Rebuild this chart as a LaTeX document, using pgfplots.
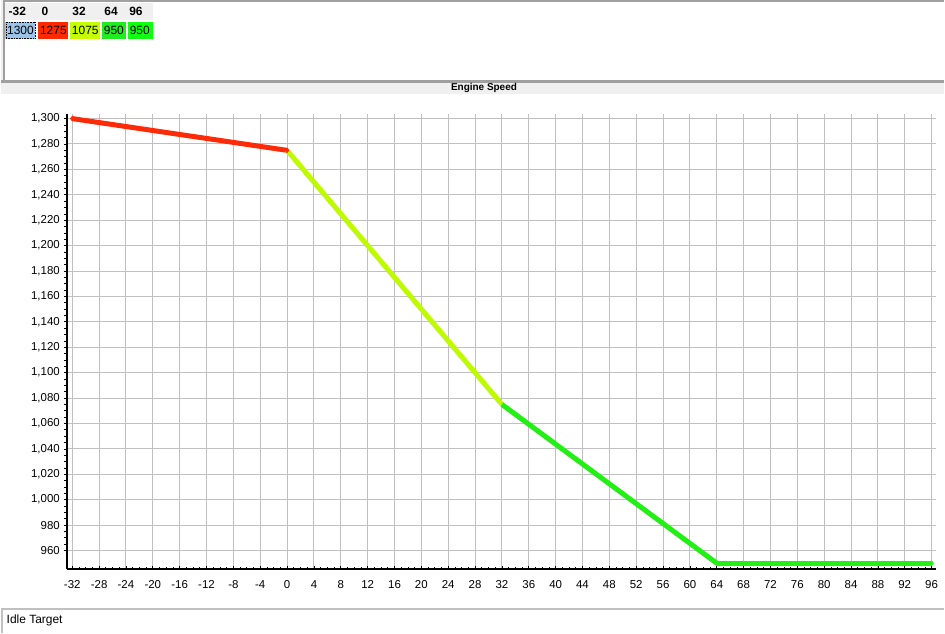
\documentclass[border=0pt]{standalone}
\usepackage{pgfplots}
\pgfplotsset{compat=1.18}
\usepackage{fontspec}
\setmainfont{Liberation Sans}

\definecolor{segred}{RGB}{255,42,8}
\definecolor{segyel}{RGB}{190,250,0}
\definecolor{seggrn}{RGB}{34,240,20}
\definecolor{cellblue}{RGB}{156,196,232}
\definecolor{cellred}{RGB}{255,42,0}
\definecolor{cellyel}{RGB}{200,255,0}
\definecolor{cellgrn}{RGB}{32,236,32}
\definecolor{cellgrn2}{RGB}{16,255,16}
\definecolor{panelgray}{RGB}{160,160,160}
\definecolor{stripgray}{RGB}{240,240,240}
\definecolor{gridgray}{RGB}{192,192,192}

\newcommand{\uifont}{\fontsize{11.5}{13}\selectfont}
\newcommand{\cellfont}{\fontsize{12}{14}\selectfont}

\begin{document}
\begin{tikzpicture}[x=1pt,y=1pt]
% canvas
\fill[white] (0,0) rectangle (945,635);

% top table panel
\fill[stripgray] (0,635) rectangle (945,541);
\fill[white] (4,633) rectangle (945,555);
\draw[panelgray,line width=2pt] (3,554) -- (3,634) -- (945,634);
\draw[panelgray,line width=3pt] (0,553.5) -- (945,553.5);
\fill[stripgray] (4,632) rectangle (152,615);
\begin{scope}[font=\cellfont\bfseries,anchor=base west]
  \node[inner sep=0] at (7,619) {-32};
  \node[inner sep=0] at (40,619) {0};
  \node[inner sep=0] at (71,619) {32};
  \node[inner sep=0] at (103,619) {64};
  \node[inner sep=0] at (128,619) {96};
\end{scope}
\fill[cellblue] (4,613) rectangle (34,596);
\draw[black,densely dotted,line width=0.6pt] (4.5,612.5) rectangle (33.5,596.5);
\fill[cellred] (37,613) rectangle (67,596);
\fill[cellyel] (69,613) rectangle (99,596);
\fill[cellgrn] (101,613) rectangle (125,596);
\fill[cellgrn2] (127,613) rectangle (152,596);
\begin{scope}[font=\cellfont,anchor=base west]
  \node[inner sep=0] at (5.5,600) {1300};
  \node[inner sep=0] at (38.5,600) {1275};
  \node[inner sep=0] at (70.5,600) {1075};
  \node[inner sep=0] at (102.5,600) {950};
  \node[inner sep=0] at (128.5,600) {950};
\end{scope}
\node[font=\fontsize{10}{11}\selectfont\bfseries,inner sep=0] at (484,547) {Engine Speed};

% bottom panel
\draw[gridgray,line width=2pt] (0,24) -- (945,24);
\draw[gridgray,line width=2pt] (1,0) -- (1,24);
\node[font=\cellfont,anchor=base west,inner sep=0] at (5,10) {Idle Target};

\begin{axis}[
  at={(66pt,64pt)}, anchor=south west, scale only axis,
  width=871pt, height=457pt,
  xmin=-32.74, xmax=96.59, ymin=945.3, ymax=1303.9,
  axis x line=bottom, axis y line=left,
  axis line style={-, line width=2pt, black},
  xtick={-32,-28,...,96}, ytick={960,980,...,1300},
  minor x tick num=3, minor y tick num=3,
  tick align=inside,
  major tick length=3pt, minor tick length=2.5pt,
  tick style={black, line width=0.7pt},
  y tick style={xshift=-3pt},
  grid=major, major grid style={gridgray, line width=1pt},
  tick label style={font=\uifont},
  /pgf/number format/assume math mode=true,
  /pgf/number format/1000 sep={,},
  xticklabel style={yshift=-8pt},
  yticklabel style={xshift=-4pt},
  clip=false,
  mark size=2.5pt,
]
\addplot[segred, line width=5pt, mark=diamond*, mark options={line width=0.5pt}] coordinates {(-32,1300) (0,1275)};
\addplot[segyel, line width=5pt] coordinates {(0,1275) (32,1075)};
\addplot[seggrn, line width=5pt] coordinates {(32,1075) (64,950)};
\addplot[seggrn, line width=5pt, mark=diamond*, mark options={line width=0.5pt}] coordinates {(64,950) (96,950)};
\end{axis}
\end{tikzpicture}
\end{document}
